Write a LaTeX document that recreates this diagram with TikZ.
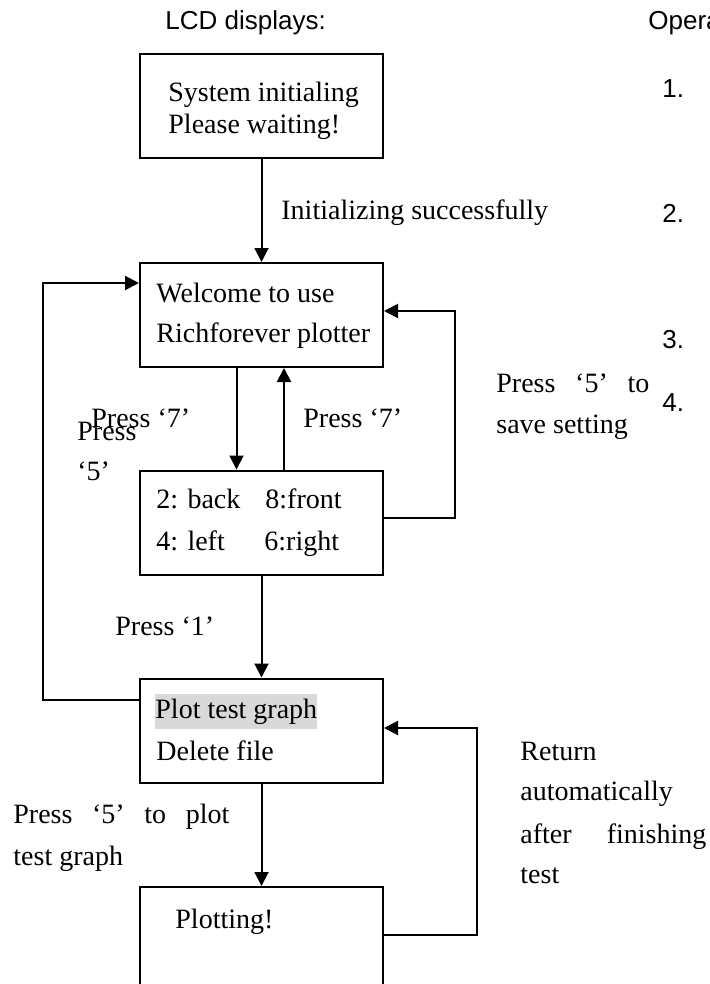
\documentclass[tikz,border=0pt]{standalone}
\usepackage{fontspec}
\setmainfont{Liberation Serif}
\setsansfont{Liberation Sans}
\usetikzlibrary{arrows.meta}

\begin{document}
\begin{tikzpicture}[
        x=0.5pt, y=-0.5pt,
        every node/.style={inner sep=0pt, font=\fontsize{14}{16}\selectfont},
        screen/.style={draw, line width=1pt, minimum width=121.5pt, minimum height=52pt},
        txt/.style={anchor=base west},
        head/.style={anchor=base west, font=\sffamily\fontsize{13}{15}\selectfont},
        edge/.style={draw, line width=1pt, -{Triangle[length=7pt,width=7pt]}},
    ]
    \clip (0,0) rectangle (710,984);

    % === HEADINGS ===
    \node[head] (hlcd) at (165, 30) {LCD displays:};
    \node[head] (hop) at (648, 30) {Opera};
    \node[head] (n1) at (662, 98) {1.};
    \node[head] (n2) at (662, 222) {2.};
    \node[head] (n3) at (662, 348) {3.};
    \node[head] (n4) at (662, 411) {4.};

    % === SCREENS ===
    \node[screen] (s1) at (261.5, 106.5) {};
    \node[txt] (s1a) at (168, 102) {System initialing};
    \node[txt] (s1b) at (168, 134) {Please waiting!};

    \node[screen] (s2) at (261.5, 315) {};
    \node[txt] (s2a) at (156, 302) {Welcome to use};
    \node[txt] (s2b) at (156, 342) {Richforever plotter};

    \node[screen] (s3) at (261.5, 522.5) {};
    \node[txt] (s3a) at (156, 508) {2: back};
    \node[txt] (s3b) at (265, 508) {8:front};
    \node[txt] (s3c) at (156, 550) {4: left};
    \node[txt] (s3d) at (264, 550) {6:right};

    \node[screen] (s4) at (261.5, 730.5) {};
    \node[txt, fill=black!15, inner ysep=2.5pt] (s4a) at (155, 718) {Plot test graph};
    \node[txt] (s4b) at (156, 760) {Delete file};

    \node[screen] (s5) at (261.5, 939) {};
    \node[txt] (s5a) at (175, 928) {Plotting!};

    % === CONNECTORS ===
    \draw[edge] (s1) -- (s2);
    \draw[edge] ([xshift=-12.5pt]s2.south) -- ([xshift=-12.5pt]s3.north);
    \draw[edge] ([xshift=11.25pt]s3.north) -- ([xshift=11.25pt]s2.south);
    \draw[edge] ([yshift=2.25pt]s3.east) -- ++(71,0) |- ([yshift=2pt]s2.east);
    \draw[edge] (s3) -- (s4);
    \draw[edge] ([yshift=15.25pt]s4.west) -- ++(-96,0) |- ([yshift=16pt]s2.west);
    \draw[edge] (s4) -- (s5);
    \draw[edge] ([yshift=2pt]s5.east) -- ++(93,0) |- ([yshift=1.25pt]s4.east);

    % === LABELS ===
    \node[txt] (l1) at (281, 220) {Initializing successfully};
    \node[txt] (l2) at (91, 427) {Press ‘7’};
    \node[txt] (l3) at (303, 427) {Press ‘7’};
    \node[txt] (l4a) at (77, 440) {Press};
    \node[txt] (l4b) at (77, 480) {‘5’};
    \node[txt] (l5a) at (496, 392) {\makebox[76.5pt][s]{Press ‘5’ to}};
    \node[txt] (l5b) at (496, 433) {save setting};
    \node[txt] (l6) at (115, 635) {Press ‘1’};
    \node[txt] (l7a) at (13, 823) {\makebox[108pt][s]{Press ‘5’ to plot}};
    \node[txt] (l7b) at (13, 865) {test graph};
    \node[txt] (l8a) at (520, 760) {Return};
    \node[txt] (l8b) at (520, 800) {automatically};
    \node[txt] (l8c) at (520, 843) {\makebox[93pt][s]{after finishing}};
    \node[txt] (l8d) at (520, 883) {test};

\end{tikzpicture}
\end{document}
